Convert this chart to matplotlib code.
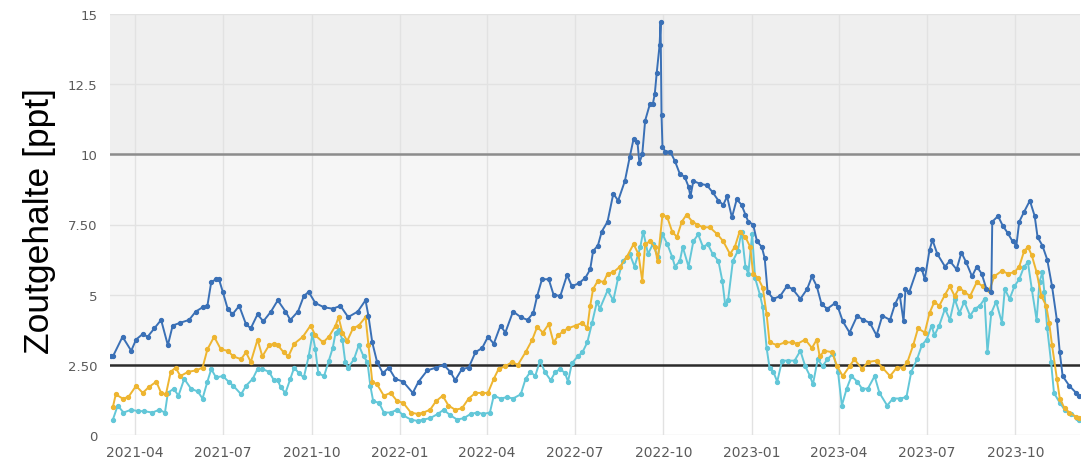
import numpy as np
import matplotlib
matplotlib.use("Agg")
import matplotlib.pyplot as plt
import matplotlib.dates as mdates

# Measurement series: days since 2021-03-07 and salt content in ppt
start_date = np.datetime64("2021-03-07")

blue_day = [0, 2, 12, 21, 26, 33, 38, 45, 52, 59, 64, 72, 81, 88, 95, 100, 104, 109, 112, 116,
            121, 126, 133, 140, 145, 152, 158, 166, 173, 181, 186, 194, 200, 205, 212, 221, 230,
            238, 246, 256, 264, 267, 271, 276, 282, 288, 295, 303, 313, 319, 328, 337, 345, 352,
            357, 364, 371, 378, 385, 391, 397, 404, 409, 417, 425, 432, 438, 442, 447, 454, 459,
            466, 473, 478, 485, 492, 497, 500, 505, 509, 515, 521, 526, 533, 538, 542, 546, 548,
            551, 554, 559, 562, 564, 566, 569, 570, 571, 572, 575, 580, 585, 590, 595, 599, 601,
            604, 611, 618, 624, 630, 635, 639, 644, 649, 654, 658, 661, 666, 670, 675, 678, 681,
            687, 694, 701, 707, 715, 722, 727, 732, 737, 743, 751, 754, 759, 766, 774, 780, 787,
            794, 800, 808, 813, 818, 822, 824, 828, 836, 841, 844, 849, 852, 857, 865, 870, 877,
            882, 887, 893, 898, 903, 908, 913, 914, 920, 925, 930, 935, 939, 942, 947, 953, 958,
            961, 966, 971, 976, 981, 984, 987, 994, 1001, 1004]
blue_val = [2.8, 2.8, 3.5, 3.0, 3.4, 3.6, 3.5, 3.8, 4.1, 3.2, 3.9, 4.0, 4.1, 4.4, 4.55, 4.6, 5.45,
            5.55, 5.55, 5.1, 4.5, 4.3, 4.6, 3.95, 3.8, 4.3, 4.05, 4.4, 4.8, 4.4, 4.1, 4.4, 4.95,
            5.1, 4.7, 4.55, 4.5, 4.6, 4.2, 4.4, 4.8, 4.25, 3.3, 2.6, 2.2, 2.4, 2.0, 1.9, 1.5, 1.9,
            2.3, 2.4, 2.5, 2.25, 1.95, 2.35, 2.4, 2.95, 3.1, 3.5, 3.25, 3.9, 3.65, 4.4, 4.2, 4.1,
            4.35, 4.95, 5.55, 5.55, 5.0, 4.95, 5.7, 5.3, 5.4, 5.6, 5.9, 6.55, 6.75, 7.25, 7.6, 8.6,
            8.35, 9.05, 9.9, 10.55, 10.45, 9.7, 10.0, 11.2, 11.8, 11.8, 12.15, 12.9, 13.9, 14.7,
            11.4, 10.25, 10.1, 10.1, 9.75, 9.3, 9.2, 8.85, 8.5, 9.05, 8.95, 8.9, 8.65, 8.35, 8.2,
            8.5, 7.75, 8.4, 8.2, 7.85, 7.6, 7.5, 6.9, 6.7, 6.3, 5.1, 4.85, 4.95, 5.3, 5.2, 4.85,
            5.2, 5.65, 5.3, 4.65, 4.5, 4.7, 4.55, 4.05, 3.65, 4.25, 4.1, 4.0, 3.55, 4.25, 4.1,
            4.65, 5.0, 4.05, 5.2, 5.1, 5.9, 5.9, 5.55, 6.6, 6.95, 6.45, 6.0, 6.2, 5.9, 6.5, 6.15,
            5.65, 6.0, 5.75, 5.2, 5.1, 7.6, 7.8, 7.45, 7.2, 6.9, 6.75, 7.6, 7.95, 8.35, 7.8, 7.05,
            6.75, 6.25, 5.3, 4.1, 2.95, 2.1, 1.75, 1.5, 1.4]

yellow_day = [2, 5, 12, 18, 26, 33, 39, 47, 52, 57, 62, 67, 72, 80, 88, 95, 100, 107, 114, 121,
              127, 135, 140, 145, 152, 157, 164, 169, 173, 179, 184, 190, 199, 207, 212, 220, 226,
              233, 236, 240, 245, 251, 257, 264, 267, 271, 276, 283, 290, 297, 303, 311, 318, 324,
              331, 337, 344, 350, 357, 364, 371, 378, 385, 391, 397, 402, 409, 416, 422, 430, 437,
              442, 448, 454, 459, 464, 469, 474, 482, 489, 494, 497, 500, 505, 511, 515, 521, 528,
              535, 542, 547, 551, 554, 559, 564, 567, 572, 577, 582, 587, 592, 597, 603, 608, 614,
              621, 629, 635, 642, 647, 652, 658, 663, 666, 671, 676, 680, 683, 691, 699, 706, 712,
              720, 727, 732, 735, 740, 748, 753, 759, 766, 771, 779, 785, 794, 800, 808, 815, 821,
              826, 832, 837, 844, 849, 854, 859, 865, 870, 875, 880, 885, 891, 898, 904, 911, 916,
              924, 930, 937, 942, 947, 951, 955, 960, 965, 970, 973, 976, 981, 984, 989, 994, 1001,
              1004]
yellow_val = [1.0, 1.45, 1.3, 1.35, 1.75, 1.5, 1.7, 1.9, 1.5, 1.45, 2.25, 2.4, 2.1, 2.25, 2.3,
              2.4, 3.05, 3.5, 3.05, 3.0, 2.8, 2.7, 2.95, 2.6, 3.4, 2.8, 3.2, 3.25, 3.2, 2.95, 2.8,
              3.25, 3.5, 3.9, 3.55, 3.3, 3.5, 3.9, 4.2, 3.65, 3.35, 3.8, 3.9, 4.2, 3.2, 1.9, 1.8,
              1.4, 1.5, 1.2, 1.15, 0.8, 0.75, 0.8, 0.9, 1.2, 1.4, 1.05, 0.9, 0.95, 1.3, 1.5, 1.5,
              1.5, 2.0, 2.35, 2.45, 2.6, 2.5, 2.95, 3.4, 3.85, 3.65, 3.95, 3.3, 3.55, 3.7, 3.8,
              3.9, 4.0, 3.8, 4.6, 5.2, 5.5, 5.45, 5.75, 5.8, 6.0, 6.35, 6.8, 6.45, 5.5, 6.8, 6.9,
              6.7, 6.2, 7.85, 7.75, 7.25, 7.05, 7.6, 7.85, 7.6, 7.5, 7.4, 7.4, 7.15, 6.9, 6.45,
              6.7, 7.25, 7.05, 6.7, 5.75, 5.6, 5.25, 4.3, 3.3, 3.2, 3.3, 3.3, 3.25, 3.4, 3.1, 3.4,
              2.8, 3.0, 2.95, 2.45, 2.1, 2.45, 2.7, 2.35, 2.6, 2.65, 2.4, 2.1, 2.4, 2.4, 2.6, 3.2,
              3.8, 3.65, 4.35, 4.75, 4.6, 5.0, 5.3, 4.95, 5.25, 5.1, 4.95, 5.45, 5.3, 5.15, 5.65,
              5.85, 5.75, 5.8, 6.0, 6.55, 6.7, 6.4, 5.8, 4.95, 4.6, 4.0, 3.2, 2.0, 1.3, 0.95, 0.8,
              0.65, 0.6]

cyan_day = [2, 7, 13, 21, 28, 34, 43, 50, 56, 59, 65, 70, 76, 83, 90, 95, 100, 104, 109, 116,
            122, 127, 135, 140, 147, 152, 157, 164, 169, 173, 176, 181, 186, 190, 195, 200, 205,
            209, 212, 215, 221, 226, 230, 233, 236, 240, 243, 246, 252, 257, 262, 266, 269, 272,
            278, 283, 290, 297, 303, 311, 318, 324, 331, 339, 345, 352, 359, 366, 373, 380, 386,
            393, 397, 404, 411, 417, 425, 430, 435, 440, 445, 450, 456, 461, 466, 471, 474, 478,
            484, 489, 494, 499, 504, 507, 515, 521, 526, 531, 538, 543, 549, 552, 557, 562, 567,
            572, 577, 582, 585, 590, 593, 599, 604, 609, 614, 619, 624, 630, 634, 637, 640, 645,
            650, 654, 658, 661, 665, 668, 673, 676, 680, 683, 687, 691, 696, 702, 709, 715, 720,
            725, 728, 733, 738, 743, 749, 754, 758, 763, 768, 774, 779, 785, 792, 797, 805, 811,
            818, 825, 830, 836, 841, 846, 851, 854, 859, 865, 870, 875, 880, 885, 891, 896, 901,
            906, 909, 913, 918, 924, 927, 932, 937, 942, 947, 951, 955, 960, 963, 966, 968, 971,
            975, 978, 984, 989, 996, 1002, 1004]
cyan_val = [0.55, 1.05, 0.8, 0.9, 0.85, 0.85, 0.8, 0.9, 0.8, 1.5, 1.65, 1.4, 2.0, 1.65, 1.55,
            1.3, 1.9, 2.35, 2.05, 2.1, 1.9, 1.75, 1.45, 1.75, 2.0, 2.35, 2.35, 2.25, 1.95, 1.95,
            1.7, 1.5, 2.0, 2.4, 2.2, 2.05, 2.8, 3.6, 3.05, 2.2, 2.1, 2.65, 3.1, 3.65, 3.75, 3.4,
            2.6, 2.4, 2.7, 3.2, 2.8, 2.6, 1.75, 1.2, 1.15, 0.8, 0.8, 0.9, 0.7, 0.55, 0.5, 0.55,
            0.6, 0.75, 0.9, 0.7, 0.55, 0.6, 0.75, 0.8, 0.75, 0.8, 1.4, 1.3, 1.35, 1.3, 1.45, 2.0,
            2.25, 2.1, 2.65, 2.25, 1.95, 2.25, 2.35, 2.2, 1.9, 2.55, 2.8, 2.95, 3.3, 4.0, 4.75,
            4.5, 5.15, 4.8, 5.6, 6.2, 6.45, 6.0, 6.7, 7.25, 6.45, 6.8, 6.35, 7.15, 6.8, 6.35,
            6.0, 6.2, 6.7, 6.0, 6.9, 7.15, 6.7, 6.8, 6.45, 6.2, 5.5, 4.65, 4.8, 6.2, 6.55, 7.25,
            6.0, 5.75, 7.15, 5.6, 5.0, 4.55, 3.1, 2.4, 2.25, 1.9, 2.65, 2.65, 2.65, 3.0, 2.45,
            2.1, 1.8, 2.7, 2.45, 2.7, 2.9, 2.25, 1.05, 1.65, 2.1, 1.9, 1.65, 1.65, 2.1, 1.5, 1.05,
            1.3, 1.3, 1.35, 2.25, 2.7, 3.2, 3.4, 3.9, 3.55, 3.9, 4.5, 4.1, 4.85, 4.35, 4.75, 4.25,
            4.5, 4.6, 4.85, 2.95, 4.35, 4.75, 4.0, 5.2, 4.85, 5.3, 5.55, 6.0, 6.15, 5.2, 4.1, 5.45,
            5.8, 5.1, 3.8, 2.6, 1.5, 1.15, 0.9, 0.75, 0.6, 0.55]

y_ticks = [0, 2.5, 5, 7.5, 10, 12.5, 15]
y_tick_labels = ["0", "2.50", "5", "7.50", "10", "12.5", "15"]
x_ticks = ["2021-04-01", "2021-07-01", "2021-10-01", "2022-01-01", "2022-04-01",
           "2022-07-01", "2022-10-01", "2023-01-01", "2023-04-01", "2023-07-01", "2023-10-01"]
lower_limit = 2.5
upper_limit = 10

COL_BLUE = "#3a70b6"
COL_YELLOW = "#eeb530"
COL_CYAN = "#63c7d8"


def to_dates(days):
    return start_date + np.array(days, dtype="timedelta64[D]")


fig = plt.figure(figsize=(10.82, 4.60), dpi=100)
ax = fig.add_axes([110 / 1082, 1 - 436 / 460, 970 / 1082, 421 / 460])

# shaded zones
ax.axhspan(upper_limit, 15, color="#efefef", zorder=0, lw=0)
ax.axhspan(lower_limit, upper_limit, color="#f6f6f6", zorder=0, lw=0)

ax.set_ylim(0, 15)
ax.set_xlim(np.datetime64("2021-03-06"), np.datetime64("2023-12-07"))

xt = [np.datetime64(d) for d in x_ticks]
ax.set_xticks(xt)
ax.xaxis.set_major_formatter(mdates.DateFormatter("%Y-%m"))
ax.set_yticks(y_ticks)
ax.set_yticklabels(y_tick_labels)

ax.grid(True, color="#e2e2e2", lw=1.0, zorder=1)
ax.set_axisbelow(True)
for s in ax.spines.values():
    s.set_visible(False)
ax.tick_params(length=0, colors="#5a5a5a", labelsize=9.5)
ax.tick_params(axis="x", pad=7, labelsize=10)
ax.tick_params(axis="y", pad=9)

ax.axhline(upper_limit, color="#8c8c8c", lw=1.8, zorder=2)
ax.axhline(lower_limit, color="#2b2b2b", lw=1.8, zorder=2)

style = dict(marker="o", markersize=2.8, lw=1.4)
ax.plot(to_dates(cyan_day), cyan_val, color=COL_CYAN, zorder=3, **style)
ax.plot(to_dates(yellow_day), yellow_val, color=COL_YELLOW, zorder=4, **style)
ax.plot(to_dates(blue_day), blue_val, color=COL_BLUE, zorder=5, **style)

fig.text(40 / 1082, 1 - 221 / 460, "Zoutgehalte [ppt]", rotation=90,
         ha="center", va="center", fontsize=25.5, family="Liberation Sans", color="black")

fig.savefig("out.png", dpi=100, facecolor="white")
